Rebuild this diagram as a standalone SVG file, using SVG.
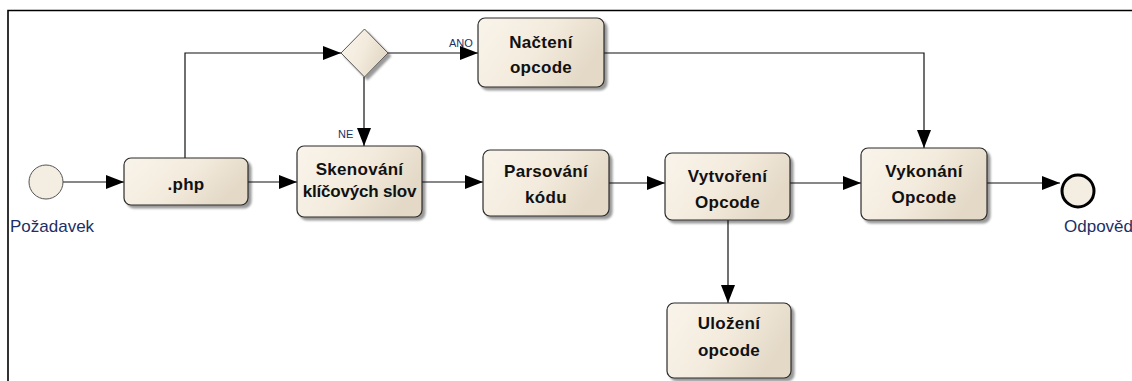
<svg xmlns="http://www.w3.org/2000/svg" width="1132" height="381" viewBox="0 0 1132 381">
  <defs>
    <linearGradient id="boxfill" x1="0" y1="0" x2="1" y2="0.4">
      <stop offset="0" stop-color="#f9f4eb"/>
      <stop offset="0.55" stop-color="#f3ebdd"/>
      <stop offset="1" stop-color="#e4d9c7"/>
    </linearGradient>
    <filter id="shadow" x="-10%" y="-10%" width="125%" height="130%">
      <feDropShadow dx="3" dy="3" stdDeviation="1.2" flood-color="#000" flood-opacity="0.4"/>
    </filter>
    <marker id="arrow" markerUnits="userSpaceOnUse" markerWidth="18" markerHeight="14" refX="18" refY="7" orient="auto">
      <path d="M0,0 L18,7 L0,14 z" fill="#000"/>
    </marker>
    <style>
      .box { fill: url(#boxfill); stroke: #2b2b2b; stroke-width: 1.2; filter: url(#shadow); }
      .lbl { font-family: "Liberation Sans", Arial, sans-serif; font-size: 17px; font-weight: bold; fill: #111; text-anchor: middle; letter-spacing: 0.3px; }
      .tight { letter-spacing: -0.2px; }
      .ev { font-family: "Liberation Sans", Arial, sans-serif; font-size: 17px; fill: #1c2f66; }
      .small { font-family: "Liberation Sans", Arial, sans-serif; font-size: 11px; fill: #1c2f66; }
      .conn { fill: none; stroke: #111; stroke-width: 1.2; }
    </style>
  </defs>

  <rect width="1132" height="381" fill="#fff"/>
  <path d="M8,381 V10.5 H1132" fill="none" stroke="#000" stroke-width="1.6"/>

  <g id="connectors">
    <path class="conn" d="M63,182 H124" marker-end="url(#arrow)"/>
    <path class="conn" d="M248,182 H297" marker-end="url(#arrow)"/>
    <path class="conn" d="M185,158 V53 H341" marker-end="url(#arrow)"/>
    <path class="conn" d="M364,77 V146" marker-end="url(#arrow)"/>
    <path class="conn" d="M388,53 H478" marker-end="url(#arrow)"/>
    <path class="conn" d="M604,53 H924 V148" marker-end="url(#arrow)"/>
    <path class="conn" d="M422,182 H483" marker-end="url(#arrow)"/>
    <path class="conn" d="M609,183 H665" marker-end="url(#arrow)"/>
    <path class="conn" d="M790,183 H861" marker-end="url(#arrow)"/>
    <path class="conn" d="M728,220 V303" marker-end="url(#arrow)"/>
    <path class="conn" d="M987,183 H1060" marker-end="url(#arrow)"/>
    <text class="small" x="449" y="47">ANO</text>
    <text class="small" x="338" y="138">NE</text>
  </g>

  <g id="start">
    <circle cx="46" cy="182" r="17" fill="#f4ede1" stroke="#555" stroke-width="1"/>
    <text class="ev" x="10" y="232">Požadavek</text>
  </g>

  <g id="php">
    <rect class="box" x="124" y="158" width="124" height="47" rx="7"/>
    <text class="lbl" x="186" y="190">.php</text>
  </g>

  <g id="gateway">
    <path d="M364.5,29 L388,53 L364.5,77 L341,53 z" fill="url(#boxfill)" stroke="#555" stroke-width="1" filter="url(#shadow)"/>
  </g>

  <g id="skenovani">
    <rect class="box" x="297" y="146" width="125" height="71" rx="7"/>
    <text class="lbl" x="359.5" y="175">Skenování</text>
    <text class="lbl tight" x="359.5" y="197">klíčových slov</text>
  </g>

  <g id="nacteni">
    <rect class="box" x="478" y="18" width="126" height="69" rx="7"/>
    <text class="lbl" x="541" y="48">Načtení</text>
    <text class="lbl" x="541" y="73">opcode</text>
  </g>

  <g id="parsovani">
    <rect class="box" x="483" y="150" width="126" height="66" rx="7"/>
    <text class="lbl" x="546" y="177">Parsování</text>
    <text class="lbl" x="546" y="203">kódu</text>
  </g>

  <g id="vytvoreni">
    <rect class="box" x="665" y="153" width="125" height="67" rx="7"/>
    <text class="lbl" x="727.5" y="182">Vytvoření</text>
    <text class="lbl" x="727.5" y="208">Opcode</text>
  </g>

  <g id="ulozeni">
    <rect class="box" x="667" y="303" width="124" height="75" rx="7"/>
    <text class="lbl" x="729" y="329">Uložení</text>
    <text class="lbl" x="729" y="356">opcode</text>
  </g>

  <g id="vykonani">
    <rect class="box" x="861" y="148" width="126" height="72" rx="7"/>
    <text class="lbl" x="924" y="177">Vykonání</text>
    <text class="lbl" x="924" y="203">Opcode</text>
  </g>

  <g id="end">
    <circle cx="1078" cy="191" r="16" fill="#f4ede1" stroke="#000" stroke-width="3"/>
    <text class="ev" x="1064" y="232">Odpověď</text>
  </g>
</svg>
